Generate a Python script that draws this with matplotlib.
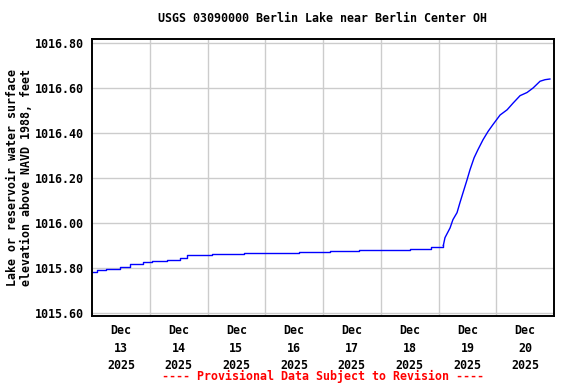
import matplotlib
matplotlib.use("Agg")
import matplotlib.pyplot as plt
import numpy as np
import pandas as pd

# hours after 2025-12-13 00:00 and elevation (ft)
hours = [0, 2, 6, 11.6, 15.8, 21, 25, 31, 36.6, 39.5, 50, 63, 78, 86, 99, 111,
         124, 132, 141, 146, 146.7, 148.8, 150, 151.7, 152.9, 154.2, 155.8,
         157.1, 158.8, 160.4, 162.5, 164.6, 166.6, 169.6, 172.5, 175, 177.9,
         180.8, 183.3, 186.2, 188.3, 190.3]
elev = [1015.780, 1015.792, 1015.797, 1015.804, 1015.818, 1015.825, 1015.832,
        1015.836, 1015.844, 1015.856, 1015.860, 1015.866, 1015.868, 1015.871,
        1015.876, 1015.880, 1015.882, 1015.886, 1015.892, 1015.900, 1015.935,
        1015.978, 1016.015, 1016.046, 1016.090, 1016.135, 1016.190, 1016.237,
        1016.290, 1016.326, 1016.370, 1016.407, 1016.437, 1016.480, 1016.503,
        1016.533, 1016.566, 1016.580, 1016.600, 1016.630, 1016.637, 1016.640]
ytick_vals = [1015.6, 1015.8, 1016.0, 1016.2, 1016.4, 1016.6, 1016.8]
day_labels = ["Dec\n13\n2025", "Dec\n14\n2025", "Dec\n15\n2025", "Dec\n16\n2025",
              "Dec\n17\n2025", "Dec\n18\n2025", "Dec\n19\n2025", "Dec\n20\n2025"]

start = pd.Timestamp("2025-12-13 00:00")
times = [start + pd.Timedelta(hours=h) for h in hours]
split = 20  # index where the steady rise begins

font = "DejaVu Sans Mono"
fs = 8.4

fig = plt.figure(figsize=(5.76, 3.84), dpi=100)
ax = fig.add_axes([92/576, 68/384, 462/576, 277/384])

ax.plot(times[:split], elev[:split], color="#0000ff", lw=1.0, drawstyle="steps-post")
ax.plot(times[split - 1:], elev[split - 1:], color="#0000ff", lw=1.0)

ax.set_xlim(start, start + pd.Timedelta(days=8))
ax.set_ylim(1015.6 - 3/225, 1016.8 + 4/225)

noons = [start + pd.Timedelta(days=i, hours=12) for i in range(8)]
mids = [start + pd.Timedelta(days=i) for i in range(1, 8)]
ax.set_xticks(noons)
ax.set_xticklabels(day_labels, fontfamily=font, fontweight="bold", fontsize=fs,
                   linespacing=1.45)
ax.set_xticks(mids, minor=True)
ax.set_yticks(ytick_vals)
ax.set_yticklabels([f"{v:.2f}" for v in ytick_vals], fontfamily=font,
                   fontweight="bold", fontsize=fs)
ax.tick_params(axis="both", which="both", length=0)
ax.tick_params(axis="y", pad=6)
ax.tick_params(axis="x", pad=6)

ax.grid(True, axis="x", which="minor", color="#cccccc", lw=1.0)
ax.grid(True, axis="y", which="major", color="#cccccc", lw=1.0)
ax.grid(False, axis="x", which="major")
ax.set_axisbelow(True)
for s in ax.spines.values():
    s.set_linewidth(1.4)
    s.set_color("black")

fig.text(323/576, 1 - 19/384, "USGS 03090000 Berlin Lake near Berlin Center OH",
         ha="center", va="center", fontfamily=font, fontweight="bold", fontsize=fs)
fig.text(20/576, 1 - 177/384,
         "Lake or reservoir water surface\nelevation above NAVD 1988, feet",
         ha="center", va="center", rotation=90, fontfamily=font,
         fontweight="bold", fontsize=fs, linespacing=1.1)
fig.text(323/576, 1 - 376/384, "---- Provisional Data Subject to Revision ----",
         ha="center", va="center", color="red", fontfamily=font,
         fontweight="bold", fontsize=fs)

fig.savefig("out.png", dpi=100)
